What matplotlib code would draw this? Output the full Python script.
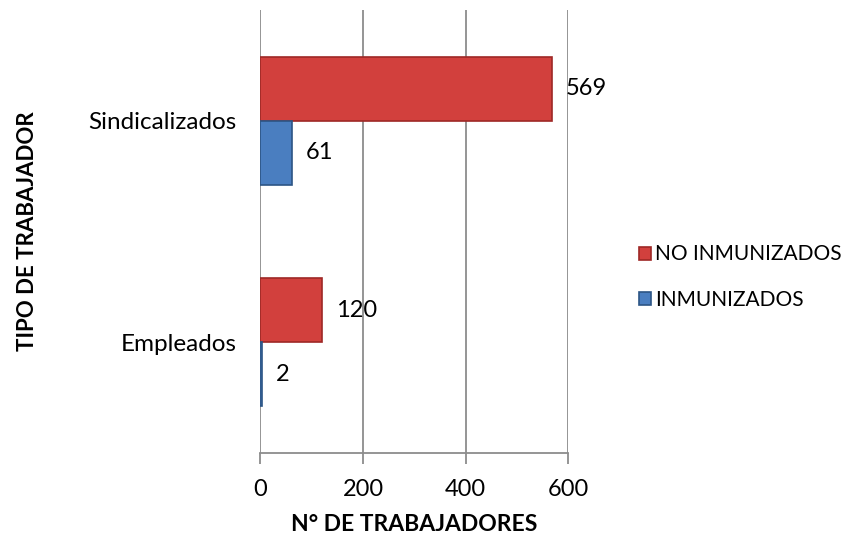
import matplotlib
matplotlib.use("Agg")
import matplotlib.pyplot as plt
import numpy as np

categories = ["Empleados", "Sindicalizados"]
no_inmunizados = [120, 569]
inmunizados = [2, 61]
series_names = ["NO INMUNIZADOS", "INMUNIZADOS"]
xticks = [0, 200, 400, 600]

plt.rcParams['font.family'] = ['Lato', 'DejaVu Sans']

fig = plt.figure(figsize=(8.62, 5.39), dpi=100)
ax = fig.add_axes([260.5/862, (539-453)/539, (568-260.5)/862, (453-10)/539])

y = np.arange(len(categories))
h = 0.29
red = "#D2403D"
red_edge = "#9E2826"
blue = "#4A7EC0"
blue_edge = "#2C5585"

b1 = ax.barh(y + h/2, no_inmunizados, height=h, color=red, edgecolor=red_edge,
             linewidth=1.2, label=series_names[0], zorder=3)
b2 = ax.barh(y - h/2, inmunizados, height=h, color=blue, edgecolor=blue_edge,
             linewidth=1.2, label=series_names[1], zorder=3)

for bars, vals in ((b1, no_inmunizados), (b2, inmunizados)):
    for r, v in zip(bars, vals):
        ax.annotate(str(v), (v, r.get_y() + r.get_height()/2), xytext=(10, 0),
                    textcoords="offset points", va="center", ha="left",
                    fontsize=17, color="black")

ax.set_xlim(0, 600)
ax.set_ylim(-0.5, 1.5)
ax.set_xticks(xticks)
ax.set_xticklabels([str(t) for t in xticks], fontsize=17)
ax.set_yticks(y)
ax.set_yticklabels(categories, fontsize=17.5)
ax.tick_params(axis='y', length=0, pad=17)
ax.tick_params(axis='x', length=8, color="#8c8c8c", width=1.3, pad=11)
ax.grid(axis='x', color="#8c8c8c", linewidth=1.3, zorder=0)
for s in ["top", "right", "left"]:
    ax.spines[s].set_visible(False)
ax.spines["bottom"].set_color("#8c8c8c")
ax.spines["bottom"].set_linewidth(1.3)

ax.set_xlabel("N° DE TRABAJADORES", fontsize=16.5, fontweight="bold", labelpad=10)
fig.text(28/862, 1 - 231/539, "TIPO DE TRABAJADOR", rotation=90, fontsize=16,
         fontweight="bold", ha="center", va="center")

handles = [b1, b2]
leg = fig.legend(handles, series_names, loc="center left",
                 bbox_to_anchor=(620/862, 1 - 277/539), frameon=False,
                 fontsize=15, handlelength=0.6, handleheight=0.6,
                 handletextpad=0.2, labelspacing=1.2)

fig.savefig("out.png", dpi=100)
